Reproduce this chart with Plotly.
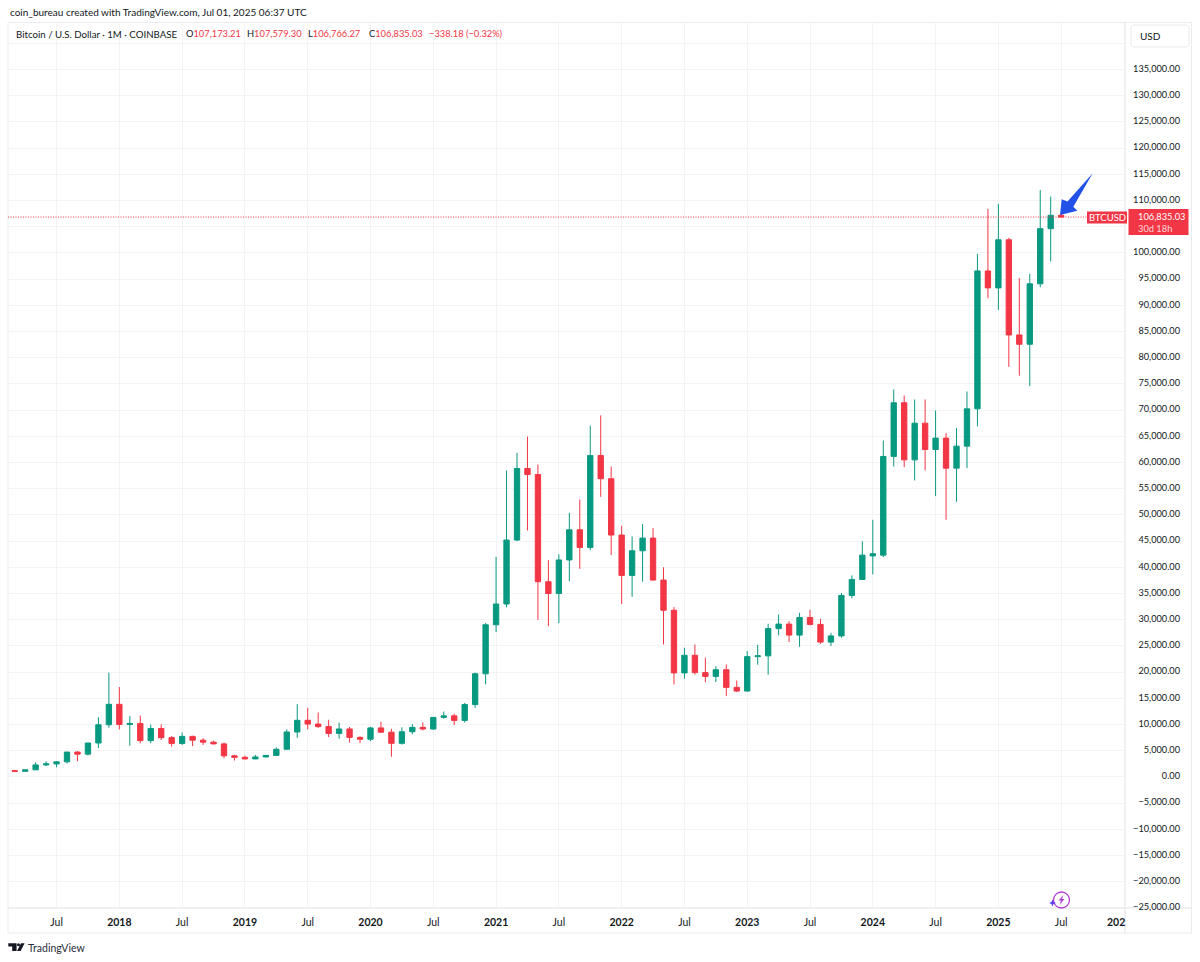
import pandas as pd
import plotly.graph_objects as go

# monthly candles, Mar 2017 -> Jul 2025
months = [d.strftime("%Y-%m") for d in pd.date_range("2017-03-01", "2025-07-01", freq="MS")]

open_prices = [
    1190, 1060, 1350, 2285, 2480, 2875, 4735, 4340, 6468, 9950,
    13850, 10000, 10200, 6923, 9240, 7490, 6390, 7730, 7010, 6626, 6300, 4020,
    3740, 3430, 3810, 4100, 5270, 8570, 10800, 10080, 9600, 8290, 9150, 7540,
    7190, 9350, 8530, 6410, 8620, 9450, 9140, 11350, 11650, 10780, 13800, 19684,
    29030, 33000, 45200, 58860, 57700, 37250, 35000, 41400, 47150, 43790, 61340, 56900,
    46150, 38450, 43150, 45570, 37560, 31800, 19850, 23200, 19900, 19180, 20450, 17080,
    16380, 22950, 23100, 28300, 29160, 27060, 30430, 29100, 25720, 26900, 34630, 37680,
    42170, 42320, 61150, 71400, 60500, 67500, 62480, 64650, 58920, 63120, 70240, 96560,
    93320, 102500, 84340, 82560, 94100, 104620, 107173.21,
]
high_prices = [
    1350, 1360, 2790, 2980, 2999, 4800, 4930, 6470, 11400, 19891,
    17140, 11607, 11700, 9980, 10020, 7780, 8480, 7855, 7400, 6900, 6560, 4230,
    4070, 4190, 4100, 5620, 9080, 13880, 13190, 12300, 10900, 10350, 9520, 7740,
    9570, 10520, 9190, 9460, 10070, 10400, 11420, 12470, 12050, 14100, 19900, 29350,
    42000, 58470, 61860, 64950, 59590, 41360, 42450, 50400, 52920, 67000, 69000, 59240,
    47920, 45890, 48240, 47470, 40000, 32400, 24650, 25280, 22740, 21090, 21460, 18410,
    24010, 25220, 29230, 31000, 29730, 31320, 31890, 30170, 27500, 35080, 38450, 44930,
    49060, 64200, 73940, 72790, 72030, 72030, 69930, 65600, 66560, 73550, 99800, 108400,
    109350, 102880, 95180, 96000, 112000, 110770, 107579.30,
]
low_prices = [
    890, 1000, 1310, 2076, 1830, 2580, 2960, 4100, 5500, 9400,
    9060, 5946, 6430, 6430, 7040, 5780, 6070, 5880, 6100, 6200, 3560, 3120,
    3330, 3380, 3700, 4080, 5200, 7460, 9070, 9320, 7600, 7300, 6550, 6430,
    6850, 8410, 3850, 6150, 8120, 8900, 8970, 11100, 9880, 10380, 13200, 17650,
    27630, 32340, 45000, 47030, 29970, 28770, 29350, 37360, 39700, 43280, 53450, 42330,
    32980, 34380, 37240, 37490, 25280, 17650, 18730, 19500, 18090, 18090, 15420, 16190,
    16310, 21410, 19490, 27000, 25730, 24830, 28900, 25400, 24960, 26550, 34100, 37600,
    38640, 41950, 59240, 59120, 56570, 58480, 53580, 49070, 52500, 58920, 66900, 91350,
    89120, 78250, 76580, 74570, 93450, 98350, 106766.27,
]
close_prices = [
    1060, 1350, 2285, 2480, 2875, 4735, 4340, 6468, 9950, 13850,
    10000, 10200, 6923, 9240, 7490, 6390, 7730, 7010, 6626, 6300, 4020, 3740,
    3430, 3810, 4100, 5270, 8570, 10800, 10080, 9600, 8290, 9150, 7540, 7190,
    9350, 8530, 6410, 8620, 9450, 9140, 11350, 11650, 10780, 13800, 19684, 29030,
    33000, 45200, 58860, 57700, 37250, 35000, 41400, 47150, 43790, 61340, 56900, 46150,
    38450, 43150, 45570, 37560, 31800, 19850, 23200, 19900, 19180, 20450, 17080, 16380,
    22950, 23100, 28300, 29160, 27060, 30430, 29100, 25720, 26900, 34630, 37680, 42320,
    42590, 61150, 71400, 60500, 67500, 62480, 64650, 58920, 63120, 70240, 96560, 93320,
    102500, 84340, 82560, 94100, 104620, 107173, 106835.03,
]

time_tick_months = [
    "2017-07", "2018-01", "2018-07", "2019-01", "2019-07", "2020-01", "2020-07", "2021-01",
    "2021-07", "2022-01", "2022-07", "2023-01", "2023-07", "2024-01", "2024-07", "2025-01", "2025-07",
]
time_tick_labels = [
    "Jul", "<b>2018</b>", "Jul", "<b>2019</b>", "Jul", "<b>2020</b>", "Jul", "<b>2021</b>",
    "Jul", "<b>2022</b>", "Jul", "<b>2023</b>", "Jul", "<b>2024</b>", "Jul", "<b>2025</b>", "Jul",
]
price_ticks = list(range(-25000, 140001, 5000))
# 140,000 sits behind the USD button, 105,000 behind the last price box
hidden_ticks = [105000, 140000]
price_labels = [("" if p in hidden_ticks else f"{p:,.2f}".replace("-", "\u2212")) for p in price_ticks]

last_price = 106835.03

UP = "#089981"
DOWN = "#F23645"
GRID = "#F3F3F4"
FRAME = "#EAEBEE"
TEXT = "#131722"
FONT = "Lato, sans-serif"

# pane edges in page pixels
LEFT, RIGHT, TOP, BOTTOM = 8, 1191, 23, 908
AXIS_X = 1125


def pane_x(px):
    return (px - LEFT) / (RIGHT - LEFT)


def pane_y(py):
    return (BOTTOM - py) / (BOTTOM - TOP)


def page_path(points):
    return "M" + " L".join(f"{pane_x(x):.5f},{pane_y(y):.5f}" for x, y in points) + " Z"


def page_shape(x0, y0, x1, y1, **kw):
    return dict(type="rect", xref="paper", yref="paper", x0=pane_x(x0), x1=pane_x(x1),
                y0=pane_y(y0), y1=pane_y(y1), **kw)


def poly_shape(points, color):
    return dict(type="path", xref="paper", yref="paper", path=page_path(points),
                fillcolor=color, line=dict(width=0))


def page_text(x, y, text, size=10, color=TEXT, anchor="left", **kw):
    return dict(xref="paper", yref="paper", x=pane_x(x), y=pane_y(y), text=text, showarrow=False,
                xanchor=anchor, yanchor="middle", font=dict(family=FONT, size=size, color=color), **kw)


fig = go.Figure()

fig.add_trace(go.Candlestick(
    x=months,
    open=open_prices,
    high=high_prices,
    low=low_prices,
    close=close_prices,
    increasing=dict(fillcolor=UP, line=dict(color=UP, width=1)),
    decreasing=dict(fillcolor=DOWN, line=dict(color=DOWN, width=1)),
    whiskerwidth=0,
    showlegend=False,
))

shapes = [
    # frame, axis separators
    page_shape(8, 22.5, 1191.5, 933, line=dict(color=FRAME, width=1), layer="below"),
    page_shape(AXIS_X, 22.5, AXIS_X, 933, line=dict(color=FRAME, width=1), layer="below"),
    page_shape(8, 908, 1191.5, 908, line=dict(color=FRAME, width=1), layer="below"),
    # USD button
    dict(type="path", xref="paper", yref="paper",
         path=(f"M{pane_x(1134)},{pane_y(25)} L{pane_x(1186)},{pane_y(25)} "
               f"Q{pane_x(1189)},{pane_y(25)} {pane_x(1189)},{pane_y(28)} "
               f"L{pane_x(1189)},{pane_y(44)} Q{pane_x(1189)},{pane_y(47)} {pane_x(1186)},{pane_y(47)} "
               f"L{pane_x(1134)},{pane_y(47)} Q{pane_x(1131)},{pane_y(47)} {pane_x(1131)},{pane_y(44)} "
               f"L{pane_x(1131)},{pane_y(28)} Q{pane_x(1131)},{pane_y(25)} {pane_x(1134)},{pane_y(25)} Z"),
         fillcolor="white", line=dict(color=FRAME, width=1)),
    # last price line and its labels
    dict(type="line", xref="paper", yref="y", x0=0, x1=pane_x(1087), y0=last_price, y1=last_price,
         line=dict(color=DOWN, width=1, dash="1px,1.5px")),
    page_shape(1087, 211.5, 1127, 223.5, fillcolor=DOWN, line=dict(width=0)),
    page_shape(1128.5, 209, 1188.5, 235, fillcolor=DOWN, line=dict(width=0)),
    # blue arrow pointing at the current candle
    poly_shape([(1092.7, 173.3), (1067.5, 201.5), (1061.7, 199.3), (1060, 215),
                (1077.3, 210.7), (1073.3, 206.7)], "#2251E8"),
    # TradingView logo
    poly_shape([(8.3, 943.3), (16.6, 943.3), (16.6, 951), (12.2, 951), (12.2, 946.6), (8.3, 946.6)], "#131722"),
    poly_shape([(21, 943.3), (24.6, 943.3), (20.6, 951), (17, 951)], "#131722"),
    dict(type="circle", xref="paper", yref="paper", x0=pane_x(17), x1=pane_x(20), y0=pane_y(943.3), y1=pane_y(946.3),
         fillcolor="#131722", line=dict(width=0)),
    # lightning badge
    dict(type="circle", xref="paper", yref="paper", x0=pane_x(1053.5), x1=pane_x(1069.5),
         y0=pane_y(892), y1=pane_y(908), line=dict(color="#B13FD0", width=1.3)),
    poly_shape([(1063.5, 895), (1058.5, 900.5), (1061, 900.5), (1059.5, 905), (1064.5, 899), (1062, 899)], "#B13FD0"),
    poly_shape([(1052.5, 899.5), (1053.5, 902), (1056, 903), (1053.5, 904), (1052.5, 906.5),
                (1051.5, 904), (1049, 903), (1051.5, 902)], "#5B3BF0"),
]


def ohlc_text(letter, value):
    return f"{letter}<span style='color:{DOWN}'>{value}</span>"


annotations = [
    page_text(8, 12, "coin_bureau created with TradingView.com, Jul 01, 2025 06:37 UTC"),
    page_text(14, 34, "Bitcoin / U.S. Dollar \u00b7 1M \u00b7 COINBASE", size=9.7),
    page_text(184, 34, ohlc_text("O", "107,173.21"), size=9.3),
    page_text(245, 34, ohlc_text("H", "107,579.30"), size=9.3),
    page_text(306, 34, ohlc_text("L", "106,766.27"), size=9.3),
    page_text(367, 34, ohlc_text("C", "106,835.03"), size=9.3),
    page_text(426.5, 34, "\u2212338.18 (\u22120.32%)", size=9.3, color=DOWN),
    page_text(1138, 36, "USD"),
    page_text(1107, 217.5, "BTCUSD", size=9.5, color="white", anchor="center"),
    page_text(1135.5, 222.5, "106,835.03<br><span style='font-size:9.3px;color:rgba(255,255,255,0.8)'>30d 18h</span>",
              size=9.3, color="white", align="left"),
    page_text(1127, 921.5, "<b>202</b>", size=10.5, anchor="right"),
    page_text(26, 947.5, "TradingView", size=10.5, color="#2A2E39"),
]

fig.update_layout(
    width=1200,
    height=962,
    autosize=False,
    margin=dict(l=LEFT, r=1200 - RIGHT, t=TOP, b=962 - BOTTOM, pad=0),
    paper_bgcolor="white",
    plot_bgcolor="white",
    font=dict(family=FONT, size=10, color=TEXT),
    shapes=shapes,
    annotations=annotations,
    boxgap=0.27,
    xaxis=dict(
        type="category",
        categoryorder="array",
        categoryarray=months,
        domain=[0, pane_x(AXIS_X)],
        range=[-0.64, 106.1],
        rangeslider=dict(visible=False),
        tickmode="array",
        tickvals=time_tick_months,
        ticktext=time_tick_labels,
        tickangle=0,
        ticks="outside",
        ticklen=4,
        tickcolor="rgba(0,0,0,0)",
        showgrid=True,
        gridcolor=GRID,
        gridwidth=1,
        showline=False,
        zeroline=False,
        tickfont=dict(family=FONT, size=10.5, color=TEXT),
    ),
    yaxis=dict(
        anchor="free",
        side="left",
        position=pane_x(1180),
        range=[-25020, 143870],
        tickmode="array",
        tickvals=price_ticks,
        ticktext=price_labels,
        ticks="",
        ticklabelshift=-1,
        showgrid=True,
        gridcolor=GRID,
        gridwidth=1,
        showline=False,
        zeroline=False,
        tickfont=dict(family=FONT, size=9.2, color=TEXT),
    ),
)

fig.write_html("out.html", post_script="document.body.style.margin='0';",
               config=dict(displayModeBar=False))
